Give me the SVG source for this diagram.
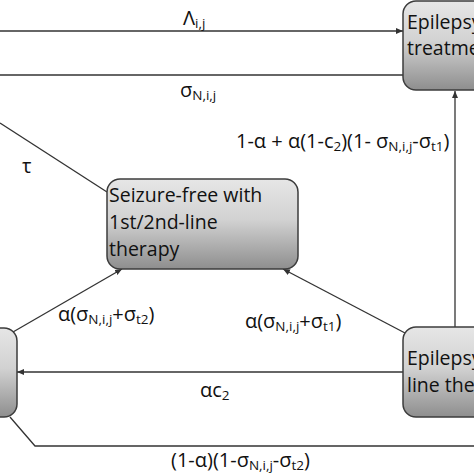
<svg xmlns="http://www.w3.org/2000/svg" width="474" height="474" viewBox="0 0 474 474">
<defs>
<linearGradient id="g" x1="0" y1="0" x2="0" y2="1">
<stop offset="0" stop-color="#e6e6e6"/>
<stop offset="0.45" stop-color="#d2d2d2"/>
<stop offset="1" stop-color="#8e8e8e"/>
</linearGradient>
<marker id="ah" markerWidth="8" markerHeight="8" refX="7" refY="4" orient="auto" markerUnits="userSpaceOnUse">
<path d="M0,1 L7,4 L0,7 Z" fill="#333"/>
</marker>
</defs>
<style>
.node{fill:url(#g);stroke:#3c3c3c;stroke-width:1.5}
.nt{font-family:"Open Sans","Noto Sans",sans-serif;font-size:19.5px;fill:#111}
.ln{fill:none;stroke:#333;stroke-width:1.3}
.lb{font-family:"Open Sans","Noto Sans",sans-serif;font-size:20px;fill:#111}
.sb{font-size:13.5px}
</style>
<rect width="474" height="474" fill="#fff"/>
<g id="connectors">
<line class="ln" x1="0" y1="31" x2="403" y2="31" marker-end="url(#ah)"/>
<line class="ln" x1="403" y1="75" x2="0" y2="75"/>
<line class="ln" x1="455" y1="327" x2="455" y2="91" marker-end="url(#ah)"/>
<line class="ln" x1="0" y1="123" x2="107" y2="192"/>
<line class="ln" x1="13" y1="332" x2="122" y2="269" marker-end="url(#ah)"/>
<line class="ln" x1="405" y1="333" x2="283" y2="269" marker-end="url(#ah)"/>
<line class="ln" x1="403" y1="372" x2="17" y2="372" marker-end="url(#ah)"/>
<polyline class="ln" points="10,417 35,446 474,446"/>
</g>
<g id="labels">
<text class="lb" x="183" y="25">Λ<tspan class="sb" dy="2.5">i,j</tspan></text>
<text class="lb" x="180" y="97">σ<tspan class="sb" dy="2.5">N,i,j</tspan></text>
<text class="lb" x="236" y="148">1-α + α(1-c<tspan class="sb" dy="2.5">2</tspan><tspan dy="-2.5">)(1- σ</tspan><tspan class="sb" dy="2.5">N,i,j</tspan><tspan dy="-2.5">-σ</tspan><tspan class="sb" dy="2.5">t1</tspan><tspan dy="-2.5">)</tspan></text>
<text class="lb" x="22" y="173">τ</text>
<text class="lb" x="58" y="321">α(σ<tspan class="sb" dy="2.5">N,i,j</tspan><tspan dy="-2.5">+σ</tspan><tspan class="sb" dy="2.5">t2</tspan><tspan dy="-2.5">)</tspan></text>
<text class="lb" x="245" y="328">α(σ<tspan class="sb" dy="2.5">N,i,j</tspan><tspan dy="-2.5">+σ</tspan><tspan class="sb" dy="2.5">t1</tspan><tspan dy="-2.5">)</tspan></text>
<text class="lb" x="200" y="397">αc<tspan class="sb" dy="2.5">2</tspan></text>
<text class="lb" x="171" y="467">(1-α)(1-σ<tspan class="sb" dy="2.5">N,i,j</tspan><tspan dy="-2.5">-σ</tspan><tspan class="sb" dy="2.5">t2</tspan><tspan dy="-2.5">)</tspan></text>
</g>
<g id="node-treatment">
<rect class="node" x="403" y="1" width="110" height="89" rx="13"/>
<text class="nt" x="407" y="29">Epilepsy,</text>
<text class="nt" x="407" y="55">treatment</text>
</g>
<g id="node-seizure-free">
<rect class="node" x="107" y="179" width="191" height="90" rx="13"/>
<text class="nt" x="109" y="202">Seizure-free with</text>
<text class="nt" x="109" y="229">1st/2nd-line</text>
<text class="nt" x="109" y="256">therapy</text>
</g>
<g id="node-left">
<rect class="node" x="-100" y="328" width="117" height="89" rx="13"/>
</g>
<g id="node-line-therapy">
<rect class="node" x="403" y="327" width="110" height="90" rx="13"/>
<text class="nt" x="407" y="365">Epilepsy</text>
<text class="nt" x="407" y="392">line therapy</text>
</g>
</svg>
